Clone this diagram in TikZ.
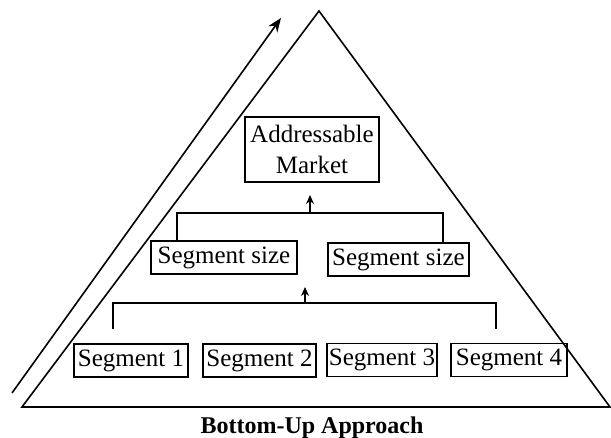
\documentclass[tikz,border=0pt]{standalone}
\usepackage{fontspec}
\setmainfont{Liberation Serif}
\usetikzlibrary{arrows.meta}

\begin{document}
\begin{tikzpicture}[
		x=0.5pt, y=-0.5pt,
		line width=0.8pt,
		every node/.style={font=\fontsize{12.5}{15.5}\selectfont},
		segbox/.style={draw, inner sep=0pt, align=center, minimum height=16.5pt},
		link/.style={line width=0.7pt},
		uparrow/.style={link, -{Stealth[length=4.5pt, width=4pt]}}
		]
	\useasboundingbox (0,0) rectangle (611,438);

	% Pyramid
	\draw (22,407) -- (319,11) -- (610,407) -- cycle;

	% Direction arrow
	\draw[-{Stealth[length=7pt, width=5.5pt]}] (12,393) -- (281,18);

	% Segments
	\node[segbox, minimum width=57pt] (seg1) at (131,360.5) {Segment 1};
	\node[segbox, minimum width=56.5pt] (seg2) at (259.5,360.5) {Segment 2};
	\node[segbox, minimum width=55pt] (seg3) at (382,360) {Segment 3};
	\node[segbox, minimum width=58pt] (seg4) at (509,360) {Segment 4};

	% Segment sizes
	\node[segbox, minimum width=73pt] (size1) at (224,257.5) {Segment size};
	\node[segbox, minimum width=70.5pt] (size2) at (398.5,259.5) {Segment size};

	% Market
	\node[segbox, minimum width=67pt, minimum height=32.5pt] (market) at (312,149.5) {Addressable\\Market};

	% Caption
	\node[font=\bfseries\fontsize{12}{14}\selectfont] (title) at (312,428) {Bottom-Up Approach};

	% Segments to sizes
	\coordinate (b1) at (113,329);
	\coordinate (b4) at (496,329);
	\coordinate (j1) at (113,303);
	\coordinate (j4) at (496,303);
	\coordinate (ja) at (305,303);
	\coordinate (jt) at (305,287);
	\draw[link] (b1) -- (j1) -- (j4) -- (b4);
	\draw[uparrow] (ja) -- (jt);

	% Sizes to market
	\coordinate (c1) at (177,213);
	\coordinate (c2) at (443,213);
	\coordinate (ca) at (310,213);
	\coordinate (ct) at (310,195);
	\draw[link] (size1.north -| c1) -- (c1) -- (c2) -- (size2.north -| c2);
	\draw[uparrow] (ca) -- (ct);

\end{tikzpicture}
\end{document}
